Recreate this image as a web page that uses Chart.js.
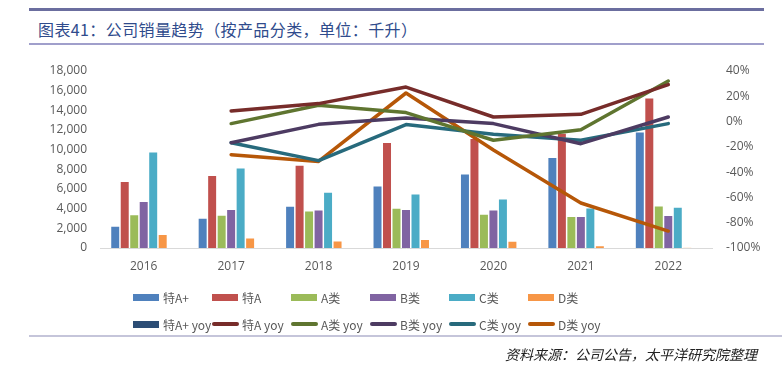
<!DOCTYPE html>
<html>
<head>
<meta charset="utf-8">
<script src="https://cdn.jsdelivr.net/npm/chart.js@4/dist/chart.umd.min.js"></script>
<style>
    html, body { margin: 0; padding: 0; background: #fff; }
    body { width: 782px; height: 372px; position: relative; overflow: hidden; font-family: 'Noto Sans CJK SC', sans-serif; }
    #chartBox { position: absolute; left: 0; top: 0; width: 782px; height: 372px; }
    .rule { position: absolute; left: 29px; width: 735px; }
    #topRule { top: 8px; height: 3px; background: #6b6e9f; }
    #titleRule { top: 43px; height: 2px; background: #a09fcb; }
    #bottomRule { top: 335px; height: 2px; background: #c5c5da; width: 753px; }
    #title { position: absolute; left: 38px; top: 18px; font-size: 16px; letter-spacing: 0.4px; color: #2f4b8c; line-height: 22px; white-space: nowrap; }
    #source { position: absolute; right: 25px; top: 344px; font-size: 14px; font-style: italic; color: #222; line-height: 20px; white-space: nowrap; }
    #legend { position: absolute; left: 133px; top: 287px; display: grid; grid-template-columns: repeat(6, 79px); row-gap: 7px; }
    .item { display: flex; align-items: center; height: 20px; font-size: 12px; color: #595959; white-space: nowrap; }
    .box { width: 26px; height: 7px; margin-right: 4px; flex: none; }
    .ln { width: 27px; height: 4px; border-radius: 2px; margin-right: 3px; flex: none; }
</style>
</head>
<body>
<div class="rule" id="topRule"></div>
<div id="title">图表41：公司销量趋势（按产品分类，单位：千升）</div>
<div class="rule" id="titleRule"></div>
<div id="chartBox"><canvas id="salesChart"></canvas></div>
<div id="legend"></div>
<div class="rule" id="bottomRule"></div>
<div id="source">资料来源：公司公告，太平洋研究院整理</div>
<script>
// categories
const years = ['2016', '2017', '2018', '2019', '2020', '2021', '2022'];

// sales volume (千升)
const teAPlus = [2250, 3050, 4270, 6340, 7560, 9220, 11830];
const teA = [6800, 7390, 8440, 10750, 11150, 11700, 15290];
const aLei = [3400, 3350, 3800, 4070, 3460, 3220, 4300];
const bLei = [4750, 3950, 3900, 3950, 3900, 3220, 3320];
const cLei = [9800, 8170, 5700, 5525, 5000, 4100, 4170];
const dLei = [1400, 1050, 750, 900, 700, 250, 40];

// yoy (%)
const teAPlusYoy = [null, null, null, null, null, null, null];
const teAYoy = [null, 8.4, 14.2, 27.3, 3.6, 5.7, 29.2];
const aYoy = [null, -1.6, 12.9, 7.1, -14.8, -6.4, 32.1];
const bYoy = [null, -16.7, -2.2, 2.8, -1.6, -17.5, 3.6];
const cYoy = [null, -16.7, -30.9, -2.4, -10.1, -14.8, -1.6];
const dYoy = [null, -26.2, -31.5, 22.6, -22.5, -64.4, -86.6];

const leftTicks = { min: 0, max: 18000, step: 2000 };
const rightTicks = { min: -100, max: 40, step: 20 };

const tickFont = { family: "'Open Sans', sans-serif", size: 12 };
const tickColor = '#595959';

function barSet(label, data, color) {
    return {
        type: 'bar', label, data, yAxisID: 'y', order: 2,
        backgroundColor: color, borderColor: 'rgba(255,255,255,0.6)',
        borderWidth: 0.75, borderSkipped: 'start',
        barPercentage: 1, categoryPercentage: 0.76
    };
}

function lineSet(label, data, color) {
    return {
        type: 'line', label, data, yAxisID: 'y1', order: 1,
        borderColor: color, backgroundColor: color, borderWidth: 3.5,
        pointRadius: 0, tension: 0, spanGaps: false,
        borderCapStyle: 'round', borderJoinStyle: 'round'
    };
}

// the empty 特A+ yoy bar series still takes a slot in each group
const datasets = [
    barSet('特A+', teAPlus, '#4f81bd'),
    barSet('特A', teA, '#c0504d'),
    barSet('A类', aLei, '#9bbb59'),
    barSet('B类', bLei, '#8064a2'),
    barSet('C类', cLei, '#4bacc6'),
    barSet('D类', dLei, '#f79646'),
    Object.assign(barSet('特A+ yoy', teAPlusYoy, '#2c4d75'), { yAxisID: 'y1' }),
    lineSet('特A yoy', teAYoy, '#772c2a'),
    lineSet('A类 yoy', aYoy, '#5f7530'),
    lineSet('B类 yoy', bYoy, '#4d3b62'),
    lineSet('C类 yoy', cYoy, '#276a7c'),
    lineSet('D类 yoy', dYoy, '#b65708')
];

const ctx = document.getElementById('salesChart').getContext('2d');
const chart = new Chart(ctx, {
    data: { labels: years, datasets },
    options: {
        responsive: true,
        maintainAspectRatio: false,
        animation: false,
        layout: { padding: { left: 0, right: 0, top: 71, bottom: 94 } },
        plugins: { legend: { display: false }, tooltip: { enabled: false } },
        scales: {
            x: {
                grid: { display: false, drawTicks: false },
                border: { display: true, color: '#d9d9d9', width: 1 },
                ticks: { font: tickFont, color: tickColor, padding: 11 },
                afterFit: s => { s.height = 30; }
            },
            y: {
                position: 'left',
                min: leftTicks.min, max: leftTicks.max,
                grid: { display: false, drawTicks: false },
                border: { display: false },
                ticks: {
                    stepSize: leftTicks.step, font: tickFont, color: tickColor, padding: 13,
                    callback: v => v.toLocaleString('en-US')
                },
                afterFit: s => { s.width = 100; }
            },
            y1: {
                position: 'right',
                min: rightTicks.min, max: rightTicks.max,
                grid: { display: false, drawTicks: false },
                border: { display: false },
                ticks: {
                    stepSize: rightTicks.step, font: tickFont, color: tickColor, padding: 14,
                    callback: v => v + '%'
                },
                afterFit: s => { s.width = 70; }
            }
        }
    }
});

// legend in a 6 column grid, like the original
const legend = document.getElementById('legend');
chart.data.datasets.forEach(ds => {
    const item = document.createElement('div');
    item.className = 'item';
    const mark = document.createElement('span');
    mark.className = ds.type === 'line' ? 'ln' : 'box';
    mark.style.background = ds.type === 'line' ? ds.borderColor : ds.backgroundColor;
    item.appendChild(mark);
    item.appendChild(document.createTextNode(ds.label));
    legend.appendChild(item);
});
</script>
</body>
</html>
